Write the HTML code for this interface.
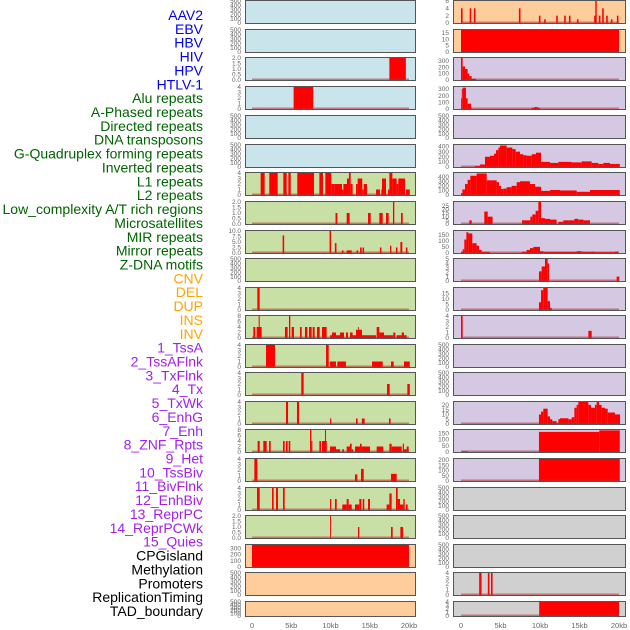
<!DOCTYPE html>
<html><head><meta charset="utf-8"><style>
html,body{margin:0;padding:0;background:#fff;}
svg{display:block;}
.lab{font-family:"Liberation Sans",sans-serif;font-size:14px;}
.tk{font-family:"Liberation Sans",sans-serif;font-size:6.5px;fill:#666;}
.xt{font-family:"Liberation Sans",sans-serif;font-size:7.5px;fill:#666;}
</style></head><body>
<svg id="chart" width="630" height="630" viewBox="0 0 630 630" xmlns="http://www.w3.org/2000/svg">
<rect x="0" y="0" width="630" height="630" fill="#fff"/>
<g id="labels"></g>
<g id="panels"></g>
</svg>
<script>
// ---- track label data ----
const trackNames = ["AAV2","EBV","HBV","HIV","HPV","HTLV-1","Alu repeats","A-Phased repeats","Directed repeats","DNA transposons","G-Quadruplex forming repeats","Inverted repeats","L1 repeats","L2 repeats","Low_complexity A/T rich regions","Microsatellites","MIR repeats","Mirror repeats","Z-DNA motifs","CNV","DEL","DUP","INS","INV","1_TssA","2_TssAFlnk","3_TxFlnk","4_Tx","5_TxWk","6_EnhG","7_Enh","8_ZNF_Rpts","9_Het","10_TssBiv","11_BivFlnk","12_EnhBiv","13_ReprPC","14_ReprPCWk","15_Quies","CPGisland","Methylation","Promoters","ReplicationTiming","TAD_boundary"];
const trackGroups = ["v","v","v","v","v","v","r","r","r","r","r","r","r","r","r","r","r","r","r","s","s","s","s","s","c","c","c","c","c","c","c","c","c","c","c","c","c","c","c","o","o","o","o","o"];

// ---- panel row layout values ----
const rowTops = [0,29,57,86,115,144,172,201,230,258,287,315,344,372,401,429,458,487,515,544,572,601];
const leftBg = ["b","b","b","b","b","b","g","g","g","g","g","g","g","g","g","g","g","g","g","p","p","p"];
const rightBg = ["p","p","l","l","l","l","l","l","l","l","l","l","l","l","l","l","l","y","y","y","y","y"];

// ---- y axis maxima & tick labels ----
const leftYMax = [500,500,2,4,500,500,4,2,10,500,4,8,4,4,4,8,4,4,2,350,500,500];
const rightYMax = [6,17,340,330,500,430,480,30,180,5,20,4,500,500,23,175,210,500,500,500,4,4];
const T500 = ["0","100","200","300","400","500"];
const T4 = ["0","1","2","3","4"];
const T8 = ["0","2","4","6","8"];
const T2 = ["0.0","0.5","1.0","1.5","2.0"];
const T10 = ["0.0","2.5","5.0","7.5","10.0"];
const leftTicks = [T500,T500,T2,T4,T500,T500,T4,T2,T10,T500,T4,T8,T4,T4,T4,T8,T4,T4,T2,["0","100","200","300"],T500,T500];
const rightTicks = [["0","2","4","6"],["0","5","10","15"],["0","100","200","300"],["0","100","200","300"],T500,["0","100","200","300","400"],["0","100","200","300","400"],["0","5","10","15","20","25"],["0","50","100","150"],["0","1","2","3","4","5"],["0","5","10","15"],T4,T500,T500,["0","5","10","15","20"],["0","50","100","150"],["0","50","100","150","200"],T500,T500,T500,T4,T4];

// ---- left column series: [startKb, endKb, value] ----
const L2 = [[17.5,19.6,2]];
const L3 = [[5.3,7.8,4]];
const L6 = [[1.1,1.61,4],[2.2,3.27,4],[3.99,4.42,4],[4.63,4.93,4],[5.77,7.9,4],[8.58,9.04,4],[9.34,10.1,4],[10.1,10.53,2],[10.53,11.47,2],[11.47,11.64,1],[11.64,12.1,2],[12.1,12.35,3],[12.35,12.57,4],[12.57,12.82,2],[13.25,13.46,2],[13.46,14.05,3],[14.05,14.23,1],[14.23,14.65,2],[15.8,16.3,1],[16.48,16.56,1],[16.56,17.07,3],[17.32,17.5,1],[17.5,17.88,4],[17.88,18.43,3],[18.43,18.64,2],[18.64,19.49,3],[19.6,20.1,1]];
const L7 = [[10.64,10.88,1],[12.06,12.44,1],[14.78,15.12,1],[16.22,16.65,1],[17.07,17.41,1],[17.96,18.13,2],[18.98,19.2,1]];
const L8 = [[3.9,4.1,8],[9.88,10.08,10],[10.56,10.76,4.5],[11.45,11.65,1.2],[12.06,12.7,1.2],[13.32,13.52,1.2],[13.76,13.97,2.5],[14.08,14.28,2.5],[16.29,16.49,2.5],[17.58,17.75,3.3],[18.33,18.53,2.5],[18.9,19.15,5],[19.6,19.8,2.5]];
const L10 = [[0.68,0.98,4]];
const L11 = [[0.17,0.42,4],[0.59,1.23,4],[0.85,0.98,8],[4.2,4.54,4],[4.71,4.88,8],[5.05,5.35,4],[6.11,6.33,4],[6.75,7.05,4],[7.26,7.6,4],[7.73,7.98,4],[8.28,8.62,4],[8.92,9.51,4],[9.94,10.19,1],[10.19,10.7,2],[10.7,11.21,1],[11.21,11.72,2],[11.97,12.23,2],[12.48,12.82,2],[12.82,13.25,1],[13.25,14.01,3],[13.5,13.6,4],[14.01,15.8,1],[15.88,16.22,4],[16.22,16.82,2],[16.82,18.0,1],[18.0,18.26,2],[18.43,19.07,1],[19.07,19.36,2],[19.36,19.7,1]];
const L12 = [[1.78,2.93,4],[9.43,9.77,4],[9.94,10.7,1],[10.87,11.97,1],[15.29,16.65,1],[17.71,18.05,1],[19.36,20.1,1]];
const L13 = [[6.28,6.58,4],[17.2,17.54,2],[19.79,20.1,2]];
const L14 = [[4.33,4.59,4],[5.73,5.99,4],[9.94,10.1,1],[13.25,13.46,1],[14.0,14.35,1],[17.45,17.66,1]];
const L15 = [[0.72,0.98,4],[1.44,1.87,4],[2.17,2.38,4],[3.95,4.16,4],[4.33,4.54,4],[4.67,4.88,4],[7.39,7.56,8],[7.56,7.69,4],[8.58,8.79,4],[8.92,9.3,4],[9.3,9.43,8],[9.43,9.51,4],[9.94,10.7,2],[10.7,11.21,1],[11.5,11.72,1],[12.06,12.48,2],[12.48,12.7,3],[12.7,12.9,1],[13.12,13.76,2],[13.76,13.97,3],[13.97,15.03,2],[15.88,16.73,2],[17.5,17.79,3],[17.79,19.07,2],[19.2,19.36,3],[19.36,19.7,1],[19.7,19.96,2]];
const L16 = [[0.3,0.68,4],[13.12,13.42,1.2],[13.89,14.23,2.2],[17.71,18.43,1.3]];
const L17 = [[0.64,0.98,4],[2.55,2.76,4],[3.06,3.31,4],[3.95,4.16,4],[9.94,10.1,2],[10.57,10.79,2],[11.5,12.06,1],[12.06,12.31,2],[12.31,12.7,1],[13.12,13.67,1],[13.67,13.93,2],[14.1,14.3,2],[14.78,15.03,2],[17.15,17.5,1],[17.5,17.79,3],[18.34,18.56,4],[18.56,18.85,2],[18.85,19.28,1],[19.28,19.45,2],[19.58,19.83,1]];
const L18 = [[9.94,10.06,2],[13.5,13.67,1],[17.71,17.92,1],[18.9,19.24,1]];
const L19 = [[0,20,350]];

// ---- right column series ----
const R0 = [[0,0.2,4],[1.1,1.3,4],[1.63,1.83,4],[7.33,7.53,4],[9.86,10.06,2],[10.53,10.73,1],[12.05,12.25,2],[13.06,13.26,2],[13.66,13.86,2],[14.67,14.87,1],[16.86,17.06,2],[17.0,17.18,6],[17.45,17.65,2],[17.87,18.07,4],[18.38,18.58,2],[18.97,19.17,1],[19.73,19.93,2]];
const R1 = [[0,20,17]];
const R2 = [[0,0.21,340],[0.21,0.51,210],[0.51,0.84,170],[0.84,1.05,100],[1.05,1.35,60],[1.35,1.9,20]];
const R3 = [[0,0.1,160],[0.1,0.21,300],[0.21,0.63,320],[0.63,0.84,160],[0.84,1.27,80],[1.27,1.35,20],[8.95,9.3,20],[9.3,9.7,30],[9.7,10.0,20]];
const R5_edges = [1.77,2.41,3.04,3.67,4.18,4.43,4.73,4.94,5.78,6.5,6.92,7.47,7.89,8.31,8.95,9.49,10.13,11.27,12.32,14.0,15.27,16.54,17.38,18.02,18.86,20.1];
const R5_vals = [20,50,200,220,260,330,380,420,380,350,300,250,230,220,250,280,100,80,100,90,110,80,60,80,60];
const R6_edges = [0,0.17,0.51,0.84,1.18,1.98,3.25,4.51,4.81,5.06,5.36,5.78,6.41,7.05,7.47,8.73,9.37,10.13,11.27,12.53,14.64,16.33,20.1];
const R6_vals = [40,120,240,330,420,470,320,280,200,130,140,170,200,280,300,240,180,90,110,100,70,110];
const R7 = [[1.05,1.35,5],[2.95,3.38,17],[3.38,4.0,10],[7.72,8.78,5],[8.78,9.03,10],[9.03,9.45,13],[9.45,9.79,18],[9.79,10.13,30],[10.13,10.63,8],[10.63,11.27,7],[11.27,12.1,6],[12.32,12.95,3],[12.95,13.59,5],[13.59,14.35,5],[14.35,14.85,7],[14.85,15.49,6],[15.49,16.33,5]];
const R8 = [[0,0.21,10],[0.21,0.42,30],[0.42,0.68,110],[0.68,0.93,170],[0.93,1.43,160],[1.43,1.98,80],[1.98,2.28,60],[2.28,2.62,25],[2.62,3.67,10],[7.68,8.31,10],[8.31,8.73,25],[8.73,9.16,40],[9.16,10.0,50],[10.0,10.42,15],[10.42,14.64,10],[14.64,15.27,15],[15.27,16.96,10],[16.96,19.49,7],[19.49,19.92,12]];
const R9 = [[9.87,10.21,2.2],[10.21,10.63,3.3],[10.63,10.97,5],[10.97,11.14,4],[19.7,20.04,1]];
const R10 = [[9.87,10.13,7],[10.13,10.42,18],[10.42,10.97,20],[10.97,11.27,8],[11.27,11.48,2]];
const R11 = [[0,0.21,4],[16.12,16.54,1.3]];
const R14_edges = [9.87,10.13,10.42,10.97,11.27,11.56,12.11,12.32,12.53,13.59,14.01,14.35,14.64,14.85,16.12,16.46,16.96,17.17,17.47,17.8,18.23,18.57,19.49,20.13];
const R14_vals = [10,13,16,8,5,3,1,5,6,5,7,17,20,23,20,17,20,23,20,17,16,12,10];
const R15 = [[0.08,0.84,5],[9.87,17.5,160],[17.5,20.1,172]];
const R16 = [[9.87,20.1,210]];
const R20 = [[2.3,2.6,4],[3.4,3.6,4],[3.8,4.0,4]];
const R21 = [[9.9,20.0,4]];

function stepsToBars(edges, vals){ const out=[]; for(let i=0;i<vals.length;i++) out.push([edges[i],edges[i+1],vals[i]]); return out; }
const leftSeries = {2:L2,3:L3,6:L6,7:L7,8:L8,10:L10,11:L11,12:L12,13:L13,14:L14,15:L15,16:L16,17:L17,18:L18,19:L19};
const rightSeries = {0:R0,1:R1,2:R2,3:R3,5:stepsToBars(R5_edges,R5_vals),6:stepsToBars(R6_edges,R6_vals),7:R7,8:R8,9:R9,10:R10,11:R11,14:stepsToBars(R14_edges,R14_vals),15:R15,16:R16,20:R20,21:R21};

const NS="http://www.w3.org/2000/svg";
const bgColors = {b:"#c9e4eb",g:"#c8e0a5",p:"#fecd9b",l:"#d5c8e3",y:"#d0d0d0"};
const groupColors = {v:"#0000ee",r:"#006400",s:"#ffa500",c:"#a020f0",o:"#000000"};
function mk(tag, attrs, parent){ const e=document.createElementNS(NS,tag); for(const k in attrs) e.setAttribute(k,attrs[k]); parent.appendChild(e); return e; }

// labels
const labG=document.getElementById('labels');
trackNames.forEach((n,i)=>{
  const t=mk('text',{x:203,y:20+i*13.86,'text-anchor':'end',class:'lab',fill:groupColors[trackGroups[i]]},labG);
  t.textContent=n;
  
  
});

const panG=document.getElementById('panels');
const cols = [
  {x0:245,x1:416,kb0:252,kb20:409,tickX:241,bg:leftBg,ymax:leftYMax,ticks:leftTicks,series:leftSeries,name:'left'},
  {x0:453,x1:626,kb0:461,kb20:619,tickX:449,bg:rightBg,ymax:rightYMax,ticks:rightTicks,series:rightSeries,name:'right'}
];
cols.forEach(c=>{
  const xs = kb => c.kb0 + (c.kb20-c.kb0)*kb/20;
  rowTops.forEach((top,r)=>{
    const h = (r===rowTops.length-1)?16:24;
    const bot = top+h;
    const g=mk('g',{},panG);
    
    
    mk('rect',{x:c.x0+0.5,y:top+0.5,width:c.x1-c.x0-1,height:h-1,fill:bgColors[c.bg[r]]},g);
    const ymax=c.ymax[r];
    const ys = v => (bot-1) - (h-2)*v/ymax;
    const data=c.series[r];
    if(data){
      data.forEach(d=>{
        const x1=xs(d[0]), x2=xs(d[1]);
        const y=Math.max(top+1, ys(d[2]));
        const b=mk('rect',{x:x1,y:y,width:Math.max(0.8,x2-x1),height:bot-1-y,fill:'#ff0000'},g);
        
        
      });
      mk('rect',{x:xs(0),y:bot-2.5,width:xs(20)-xs(0),height:2,fill:'rgba(190,40,40,0.55)'},g);
    }
    mk('rect',{x:c.x0+0.5,y:top+0.5,width:c.x1-c.x0-1,height:h-1,fill:'none',stroke:'#555',"stroke-width":1},g);
    // ticks
    c.ticks[r].forEach(lbl=>{
      const v=parseFloat(lbl);
      const t=mk('text',{x:c.tickX,y:ys(v)+2.2,'text-anchor':'end',class:'tk'},g);
      t.textContent=lbl;
      
      
    });
  });
  // x axis
  const xLabels=["0","5kb","10kb","15kb","20kb"];
  xLabels.forEach((l,i)=>{
    const t=mk('text',{x:xs(i*5),y:628,'text-anchor':'middle',class:'xt'},panG);
    t.textContent=l;
    
    
  });
});
</script>
</body></html>
